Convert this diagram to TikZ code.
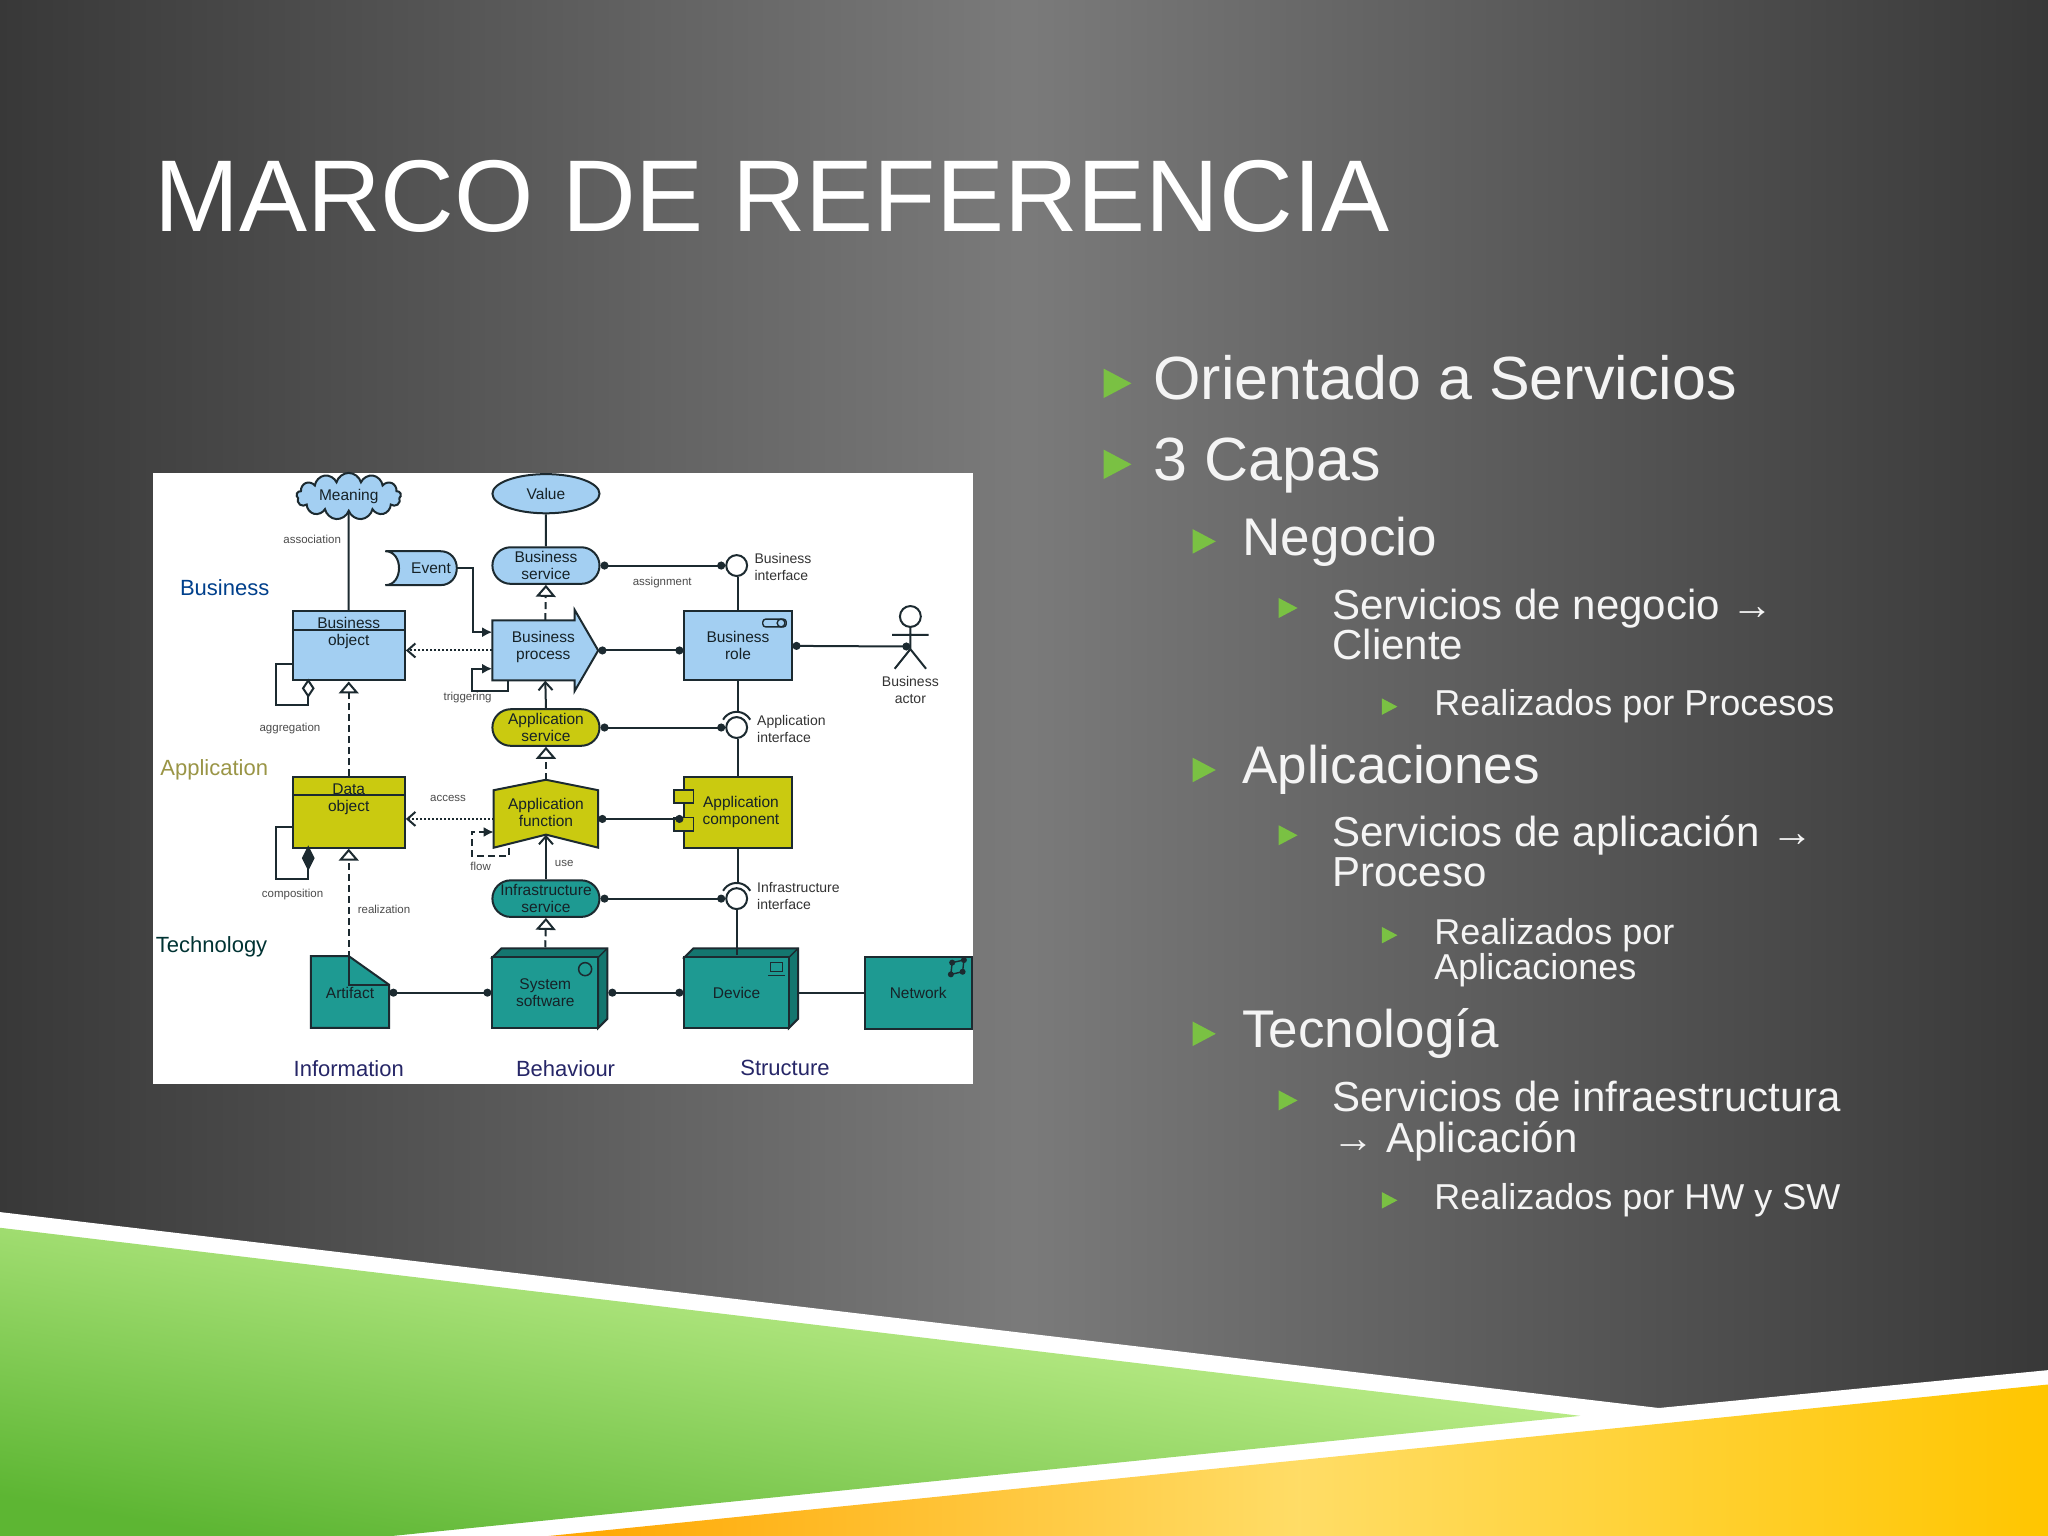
\documentclass[tikz,border=0pt]{standalone}
\usepackage{fontspec}
\setmainfont{Liberation Sans}
\usetikzlibrary{shapes.geometric,shapes.misc,shapes.symbols,arrows.meta,calc}
\def\U{1.30612pt}
\definecolor{bluefill}{HTML}{A3CFF2}
\definecolor{yelfill}{HTML}{CACA10}
\definecolor{tealfill}{HTML}{1E9A92}
\definecolor{tealdark}{HTML}{14766F}
\definecolor{edge}{HTML}{1C2A30}
\definecolor{bulgreen}{HTML}{7AC143}
\definecolor{txtw}{HTML}{F4F4F4}
\tikzset{
 el/.style={draw=edge,line width=2pt,inner sep=0pt,align=center,font=\fontsize{15.5}{17}\selectfont,text=edge!80!black},
 hid/.style={inner sep=0pt,align=center,font=\fontsize{15.5}{17}\selectfont,text=edge!80!black},
 conn/.style={draw=edge,line width=2pt},
 dotend/.style={{Circle[length=8pt]}-{Circle[length=8pt]}},
 dsh/.style={dash pattern=on 7pt off 4pt},
 real/.style={conn,dsh,-{Triangle[open,fill=white,length=12pt,width=20pt]}},
 usedby/.style={conn,-{Straight Barb[length=8pt,width=14pt]}},
 acc/.style={conn,dash pattern=on 2pt off 2pt,-{Straight Barb[length=8pt,width=14pt]}},
 trig/.style={conn,-{Latex[length=10pt,width=10pt]}},
 iface/.style={circle,draw=edge,line width=2pt,fill=white,minimum size={16*\U},inner sep=0pt},
 lbl/.style={font=\fontsize{11.5}{13}\selectfont,text=black!70,align=left},
 ilbl/.style={font=\fontsize{14}{17}\selectfont,text=black!80,align=left},
 layer/.style={font=\fontsize{22}{24}\selectfont},
 b1/.style={anchor=base west,text=txtw,font=\fontsize{61}{61}\selectfont,inner sep=0pt},
 b2/.style={anchor=base west,text=txtw,font=\fontsize{53}{53}\selectfont,inner sep=0pt},
 b3/.style={anchor=base west,text=txtw,font=\fontsize{42}{42}\selectfont,inner sep=0pt},
 b4/.style={anchor=base west,text=txtw,font=\fontsize{36}{36}\selectfont,inner sep=0pt},
}
\newcommand\bul[3]{\fill[bulgreen] (#1,#2-#3*0.95) -- (#1+#3*0.85,#2-#3*0.5) -- (#1,#2-#3*0.05) -- cycle;}
\begin{document}
\begin{tikzpicture}[x=1.30612pt,y=-1.30612pt]
\useasboundingbox (0,0) rectangle (1568,1176);
% background
\shade[left color=black!78,right color=black!78,middle color=black!52] (0,0) rectangle (1568,1176);
% bottom bands
\fill[white] (0,928) -- (1270,1078) -- (1568,1049) -- (1568,1176) -- (0,1176) -- cycle;
\shade[top color=green!20!lime!35!white,bottom color=bulgreen!85!green!90!black,shading angle=-10] (0,940) -- (1210,1084) -- (300,1176) -- (0,1176) -- cycle;
\shade[left color=orange!70!yellow,right color=orange!45!yellow,middle color=yellow!55!orange!60!white] (420,1176) -- (1568,1060) -- (1568,1176) -- cycle;
% title
\node[anchor=base west,inner sep=0pt,text=white,font=\fontsize{102}{102}\selectfont] (title) at (118,177) {MARCO DE REFERENCIA};
% bullets
\bul{845}{306}{25}\node[b1] (t1) at (883,306) {Orientado a Servicios};
\bul{845}{368}{25}\node[b1] (t2) at (883,368) {3 Capas};
\bul{913}{425}{21}\node[b2] (t3) at (951,425) {Negocio};
\bul{979}{474}{17}\node[b3] (t4) at (1020,474) {Servicios de negocio →};
\node[b3] (t4b) at (1020,505) {Cliente};
\bul{1058}{548}{14}\node[b4] (t5) at (1098,548) {Realizados por Procesos};
\bul{913}{600}{21}\node[b2] (t6) at (951,600) {Aplicaciones};
\bul{979}{648}{17}\node[b3] (t7) at (1020,648) {Servicios de aplicación →};
\node[b3] (t7b) at (1020,679) {Proceso};
\bul{1058}{723}{14}\node[b4] (t8) at (1098,723) {Realizados por};
\node[b4] (t8b) at (1098,750) {Aplicaciones};
\bul{913}{802}{21}\node[b2] (t9) at (951,802) {Tecnología};
\bul{979}{851}{17}\node[b3] (t10) at (1020,851) {Servicios de infraestructura};
\node[b3] (t10b) at (1020,882) {→ Aplicación};
\bul{1058}{926}{14}\node[b4] (t11) at (1098,926) {Realizados por HW y SW};
% diagram
\fill[white] (117,362) rectangle (745,830);
% layer labels
\node[layer,text=blue!40!black!75!cyan] (lb) at (172,450) {Business};
\node[layer,text=yellow!55!black] (la) at (164,589) {Application};
\node[layer,text=teal!40!black] (lt) at (162,725) {Technology};
\node[layer,text=blue!30!black!85] (li) at (267,818) {Information};
\node[layer,text=blue!30!black!85] (lbe) at (433,818) {Behaviour};
\node[layer,text=blue!30!black!85] (ls) at (601,818) {Structure};
% business layer
\node[el,cloud,cloud puffs=13,aspect=2.6,fill=bluefill,minimum width={80*\U},minimum height={30*\U}] (mean) at (267,380) {Meaning};
\node[el,ellipse,fill=bluefill,minimum width={82*\U},minimum height={30*\U}] (val) at (418,378) {Value};
\node[el,rounded rectangle,fill=bluefill,minimum width={82*\U},minimum height={28*\U}] (bs) at (418,433) {Business\\service};
\fill[bluefill,draw=edge,line width=2pt] (295,422) -- (337,422) .. controls (354,422) and (354,448) .. (337,448) -- (295,448) .. controls (309,448) and (309,422) .. (295,422) -- cycle;
\node[hid] (ev) at (330,435) {Event};
\node[el,rectangle,fill=bluefill,minimum width={86*\U},minimum height={53*\U}] (bo) at (267,494.5) {};
\draw[edge,line width=2pt] (224,482) -- (310,482);
\node[hid] (bot) at (267,485) {Business\\object};
\node[hid,minimum width={81*\U},minimum height={46*\U}] (bp) at (417.5,498) {};
\fill[bluefill,draw=edge,line width=2pt] (377,475) -- (440,475) -- (440,467) -- (458,498) -- (440,529) -- (440,521) -- (377,521) -- cycle;
\node[hid] (bpt) at (416,495) {Business\\process};
\node[el,rectangle,fill=bluefill,minimum width={82*\U},minimum height={53*\U}] (br) at (565,494.5) {Business\\role};
\draw[edge,line width=1.4pt,rounded corners=3pt] (584,474) rectangle (602,480);
\draw[edge,line width=1.4pt] (598,477) circle[radius=3];
\node[iface] (bi) at (564,433) {};
\node[ilbl,anchor=west] (bil) at (575,434) {Business\\interface};
\draw[edge,line width=2pt] (697,472) circle[radius=8];
\draw[edge,line width=2pt] (697,480) -- (697,497) (683,486) -- (711,486) (685,512) -- (697,497) -- (709,512);
\coordinate (actor) at (697,495);
\node[ilbl,align=center] (bal) at (697,528) {Business\\actor};
\node[lbl] at (239,413) {association};
\node[lbl] at (507,446) {assignment};
\node[lbl] at (358,534) {triggering};
\node[lbl] at (222,558) {aggregation};
% application layer
\node[el,rounded rectangle,fill=yelfill,minimum width={82*\U},minimum height={28*\U}] (as) at (418,557) {Application\\service};
\node[iface] (ai) at (564,557) {};
\draw[edge,line width=2pt] (ai) ++(210:12) arc (210:330:12);
\node[ilbl,anchor=west] (ail) at (577,558) {Application\\interface};
\node[el,rectangle,fill=yelfill,minimum width={86*\U},minimum height={54*\U}] (do) at (267,622) {};
\draw[edge,line width=2pt] (224,609) -- (310,609);
\node[hid] (dot) at (267,612) {Data\\object};
\node[hid,minimum width={80*\U},minimum height={44*\U}] (af) at (418,627) {};
\fill[yelfill,draw=edge,line width=2pt] (378,605) -- (418,597) -- (458,605) -- (458,649) -- (418,639) -- (378,649) -- cycle;
\node[hid] (aft) at (418,622) {Application\\function};
\node[el,rectangle,fill=yelfill,minimum width={82*\U},minimum height={54*\U},text width={72*\U}] (ac) at (565,622) {\hspace*{6pt}Application\\\hspace*{6pt}component};
\draw[edge,line width=1.6pt,fill=yelfill] (516,605) rectangle (531,615) (516,626) rectangle (531,636);
\node[lbl] at (343,611) {access};
\node[lbl] at (368,663) {flow};
\node[lbl] at (432,661) {use};
\node[lbl] at (224,685) {composition};
\node[lbl] at (294,696) {realization};
% technology layer
\node[el,rounded rectangle,fill=tealfill,minimum width={82*\U},minimum height={28*\U}] (is) at (418,688) {Infrastructure\\service};
\node[iface] (ii) at (564,688) {};
\draw[edge,line width=2pt] (ii) ++(210:12) arc (210:330:12);
\node[ilbl,anchor=west] (iil) at (577,686) {Infrastructure\\interface};
\node[hid,minimum width={60*\U},minimum height={55*\U}] (art) at (268,760) {};
\fill[tealfill,draw=edge,line width=2pt] (238,732) -- (267,732) -- (298,754) -- (298,787) -- (238,787) -- cycle;
\draw[edge,line width=1.6pt] (267,732) -- (267,754) -- (298,754);
\node[hid] (artt) at (268,760) {Artifact};
% 3D boxes
\foreach \a/\b in {377/458,524/604}{
 \fill[tealdark,draw=edge,line width=2pt] (\a,733) -- (\a+7,726) -- (\b+7,726) -- (\b+7,780) -- (\b,787) -- (\b,733) -- cycle;
 \draw[edge,line width=1.4pt] (\b,733) -- (\b+7,726);}
\node[el,rectangle,fill=tealfill,minimum width={81*\U},minimum height={54*\U}] (ss) at (417.5,760) {System\\software};
\node[el,rectangle,fill=tealfill,minimum width={80*\U},minimum height={54*\U}] (dev) at (564,760) {Device};
\node[el,rectangle,fill=tealfill,minimum width={82*\U},minimum height={55*\U}] (net) at (703,760) {Network};
\draw[edge,line width=1.5pt] (448,742) circle[radius=5];
\draw[edge,line width=1.4pt] (590,737) rectangle (599,744) (588,747) -- (601,747);
\fill[edge] (729,737) circle[radius=2.3] (738,735) circle[radius=2.3] (728,746) circle[radius=2.3] (737,744) circle[radius=2.3];
\draw[edge,line width=1.4pt] (729,737) -- (738,735) -- (737,744) -- (728,746) -- cycle;
% connectors
\draw[conn] (mean) -- (bo);
\draw[conn] (val) -- (bs);
\draw[conn,dotend] (bs.east) -- (bi.west);
\draw[conn] (br.north) -- (br.north |- bi.south);
\draw[conn,dotend] (bp.east) -- (br.west |- bp.east);
\draw[conn,dotend] (br.east) -- (actor);
\draw[trig] (350,435) -- (362,435) |- ($(bp.west)+(0,-14)$);
\draw[trig] (389,521) -- (389,529) -- (361,529) -- (361,512) -- ($(bp.west)+(0,14)$);
\draw[acc] (bp.west) -- (bo.east |- bp.west);
\draw[real] (bp.north) -- (bs.south);
\draw[usedby] (as.north) -- (bp.south);
\draw[conn,dotend] (as.east) -- (ai.west);
\draw[conn] (br.south) -- ($(br.south |- ai.north)+(0,-4)$);
\draw[conn] (224,508) -- (211,508) -- (211,540) -- (236,540) -- (236,533);
\draw[conn,fill=white] (236,521) -- (240,527) -- (236,533) -- (232,527) -- cycle;
\draw[real] (do.north) -- (bo.south);
\draw[conn] (224,633) -- (211,633) -- (211,673) -- (236,673) -- (236,665);
\draw[conn,fill=edge] (236,649) -- (240,657) -- (236,665) -- (232,657) -- cycle;
\draw[acc] (af.west) -- (do.east |- af.west);
\draw[conn,dsh,-{Latex[length=10pt,width=10pt]}] (390,649) -- (390,655) -- (361,655) -- (361,637) -- (378,637);
\draw[real] ($(af.north)+(0,-8)$) -- (as.south);
\draw[conn,dotend] (af.east) -- (ac.west |- af.east);
\draw[conn] (ac.north) -- (ac.north |- ai.south);
\draw[usedby] (is.north) -- ($(af.south)+(0,-10)$);
\draw[conn,dotend] (is.east) -- (ii.west);
\draw[conn] (ac.south) -- ($(ac.south |- ii.north)+(0,-4)$);
\draw[conn] ($(dev.north)+(0,-1)$) -- (dev.north |- ii.south);
\draw[real] (267,750) -- (do.south);
\draw[conn,dotend] (art.east) -- (ss.west);
\draw[real] ($(ss.north)+(0,-7)$) -- (is.south);
\draw[conn,dotend] ($(ss.east)+(7,0)$) -- (dev.west);
\draw[conn] ($(dev.east)+(7,0)$) -- (net.west);
\end{tikzpicture}
\end{document}
